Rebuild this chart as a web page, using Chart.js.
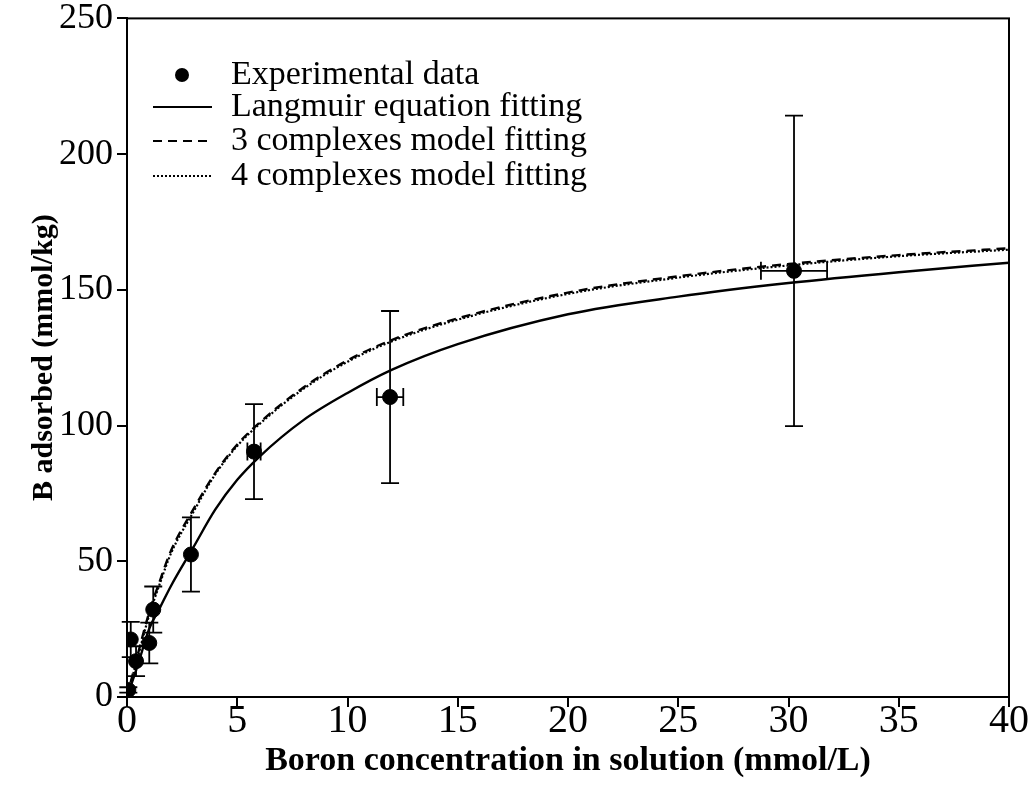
<!DOCTYPE html>
<html>
<head>
<meta charset="utf-8">
<script src="https://cdn.jsdelivr.net/npm/chart.js@4.4.1/dist/chart.umd.min.js"></script>
<style>
  html, body { margin: 0; padding: 0; background: #fff; }
  #wrap { width: 1034px; height: 790px; position: relative; }
</style>
</head>
<body>
<div id="wrap"><canvas id="chart"></canvas></div>
<script>
// experimental points (x = mmol/L, y = mmol/kg) with error bars
const expX = [0.06, 0.17, 0.41, 1.01, 1.19, 2.9, 5.76, 11.93, 30.25];
const expY = [2.6, 21.2, 13.2, 19.9, 32.2, 52.5, 90.4, 110.5, 157.0];
const expYErr = [1, 6.5, 5.5, 7.5, 8.5, 13.7, 17.5, 31.7, 57.2];
const expXErr = [0, 0, 0, 0, 0, 0, 0.3, 0.6, 1.5];

// fitted curves
const fitX = [0, 0.5, 1, 1.5, 2, 3, 4, 5, 6, 8, 10, 12, 15, 20, 25, 30, 35, 40];
const langmuirY = [0, 12, 25, 33, 41, 55, 69, 80, 88.5, 102, 112, 120.5, 130, 141, 147.5, 152.5, 156.5, 160];
const model3Y = [0, 16, 31, 43, 54, 69, 82.5, 93, 101, 114, 124, 131.5, 139.5, 149, 155, 159.5, 162.8, 165.3];
const model4Y = [0, 15, 30, 42, 53, 68, 82, 92.5, 100.5, 113.5, 123.5, 131, 139, 148.5, 154.5, 159, 162.4, 164.8];

const xTicks = [0, 5, 10, 15, 20, 25, 30, 35, 40];
const yTicks = [0, 50, 100, 150, 200, 250];

const legendItems = [
  { label: 'Experimental data', kind: 'dot' },
  { label: 'Langmuir equation fitting', kind: 'line', dash: [] },
  { label: '3 complexes model fitting', kind: 'line', dash: [9, 6] },
  { label: '4 complexes model fitting', kind: 'line', dash: [2, 2] }
];

const serif = '"Liberation Serif", "Times New Roman", serif';
const pts = (xs, ys) => xs.map((v, i) => ({ x: v, y: ys[i] }));

// error bars drawn through the scales
const errorBars = {
  id: 'errorBars',
  beforeDatasetsDraw(chart) {
    const { ctx, scales: { x, y } } = chart;
    const cap = 9;
    ctx.save();
    ctx.strokeStyle = '#000';
    ctx.lineWidth = 1.8;
    expX.forEach((v, i) => {
      const px = x.getPixelForValue(v);
      const py = y.getPixelForValue(expY[i]);
      if (expYErr[i] > 0) {
        const top = y.getPixelForValue(expY[i] + expYErr[i]);
        const bot = y.getPixelForValue(expY[i] - expYErr[i]);
        ctx.beginPath();
        ctx.moveTo(px, top); ctx.lineTo(px, bot);
        ctx.moveTo(px - cap, top); ctx.lineTo(px + cap, top);
        ctx.moveTo(px - cap, bot); ctx.lineTo(px + cap, bot);
        ctx.stroke();
      }
      if (expXErr[i] > 0) {
        const l = x.getPixelForValue(v - expXErr[i]);
        const r = x.getPixelForValue(v + expXErr[i]);
        ctx.beginPath();
        ctx.moveTo(l, py); ctx.lineTo(r, py);
        ctx.moveTo(l, py - cap); ctx.lineTo(l, py + cap);
        ctx.moveTo(r, py - cap); ctx.lineTo(r, py + cap);
        ctx.stroke();
      }
    });
    ctx.restore();
  }
};

// box round the plot + legend
const frameAndLegend = {
  id: 'frameAndLegend',
  afterDraw(chart) {
    const { ctx, chartArea: a } = chart;
    ctx.save();
    ctx.strokeStyle = '#000';
    ctx.lineWidth = 2;
    ctx.strokeRect(a.left, a.top, a.right - a.left, a.bottom - a.top);

    ctx.font = '34px ' + serif;
    ctx.fillStyle = '#000';
    ctx.textBaseline = 'alphabetic';
    const rows = [84, 116, 150, 185];
    legendItems.forEach((it, i) => {
      const yb = rows[i];
      const ym = yb - 9;
      if (it.kind === 'dot') {
        ctx.beginPath();
        ctx.arc(182, ym, 7, 0, Math.PI * 2);
        ctx.fill();
      } else {
        ctx.beginPath();
        ctx.lineWidth = 2.2;
        ctx.setLineDash(it.dash);
        ctx.moveTo(153, ym); ctx.lineTo(212, ym);
        ctx.stroke();
        ctx.setLineDash([]);
      }
      ctx.fillText(it.label, 231, yb);
    });
    ctx.restore();
  }
};

new Chart(document.getElementById('chart'), {
  type: 'scatter',
  data: {
    datasets: [
      {
        label: 'Experimental data',
        data: pts(expX, expY),
        backgroundColor: '#000',
        borderColor: '#000',
        pointRadius: 7.5,
        pointHoverRadius: 7.5
      },
      {
        label: 'Langmuir equation fitting',
        data: pts(fitX, langmuirY),
        showLine: true,
        borderColor: '#000',
        borderWidth: 2.4,
        pointRadius: 0,
        cubicInterpolationMode: 'monotone'
      },
      {
        label: '3 complexes model fitting',
        data: pts(fitX, model3Y),
        showLine: true,
        borderColor: '#000',
        borderWidth: 2.4,
        borderDash: [9, 6],
        pointRadius: 0,
        cubicInterpolationMode: 'monotone'
      },
      {
        label: '4 complexes model fitting',
        data: pts(fitX, model4Y),
        showLine: true,
        borderColor: '#000',
        borderWidth: 2.2,
        borderDash: [2, 2],
        pointRadius: 0,
        cubicInterpolationMode: 'monotone'
      }
    ]
  },
  options: {
    responsive: true,
    maintainAspectRatio: false,
    animation: false,
    layout: { padding: { top: 16, right: 25, left: 0, bottom: 0 } },
    plugins: { legend: { display: false }, tooltip: { enabled: false } },
    scales: {
      x: {
        type: 'linear',
        min: 0, max: 40,
        afterBuildTicks: s => { s.ticks = xTicks.map(v => ({ value: v })); },
        afterFit: s => { s.height = 93; },
        ticks: { color: '#000', font: { family: serif, size: 40, lineHeight: 1 }, padding: -6, maxRotation: 0 },
        grid: { drawOnChartArea: false, color: '#000', lineWidth: 2, tickLength: 10 },
        border: { color: '#000', width: 2 },
        title: {
          display: true,
          text: 'Boron concentration in solution (mmol/L)',
          color: '#000',
          font: { family: serif, size: 34, weight: 'bold' },
          padding: { top: 0, bottom: 8 }
        }
      },
      y: {
        type: 'linear',
        min: 0, max: 250,
        afterBuildTicks: s => { s.ticks = yTicks.map(v => ({ value: v })); },
        afterFit: s => { s.width = 127; },
        ticks: { color: '#000', font: { family: serif, size: 36, lineHeight: 0.8 }, padding: 4 },
        grid: { drawOnChartArea: false, color: '#000', lineWidth: 2, tickLength: 10 },
        border: { color: '#000', width: 2 },
        title: {
          display: true,
          text: 'B adsorbed (mmol/kg)',
          color: '#000',
          font: { family: serif, size: 30, weight: 'bold' },
          padding: { top: 26, bottom: 0 }
        }
      }
    }
  },
  plugins: [errorBars, frameAndLegend]
});
</script>
</body>
</html>
